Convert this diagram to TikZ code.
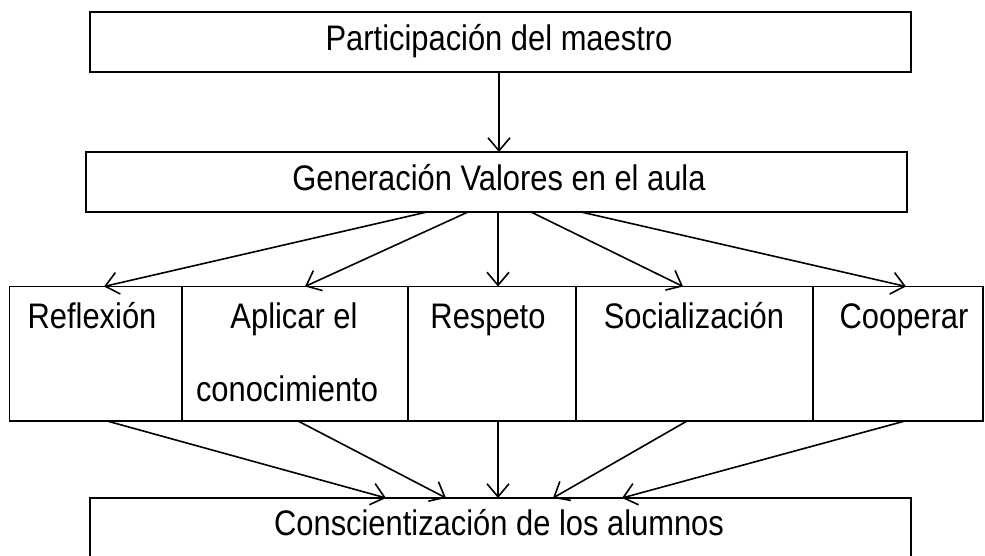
\documentclass[tikz,border=0pt]{standalone}
\usepackage{fontspec}
\setmainfont{Liberation Sans}[FakeStretch=0.87]
\usetikzlibrary{arrows.meta}
\begin{document}
\begin{tikzpicture}[x=1pt,y=-1pt,
  box/.style={draw=black, line width=1.9pt, inner sep=0pt, outer sep=0pt},
  lbl/.style={font=\fontsize{35.5}{40}\selectfont, inner sep=0pt, outer sep=0pt, anchor=base},
  arr/.style={draw=black, line width=1.6pt, -{Straight Barb[length=13pt,width=22pt]}}]
\useasboundingbox (0,0) rectangle (985,556);
\clip (0,0) rectangle (985,556);
% top boxes
\node[box, minimum width=821pt, minimum height=60pt] (a) at (500.5,42) {};
\node[lbl] (ta) at (499,51) {Participación del maestro};
\node[box, minimum width=821pt, minimum height=60pt] (b) at (496.5,182) {};
\node[lbl] (tb) at (499,191) {Generación Valores en el aula};
% row of cells
\node[box, minimum width=172.5pt, minimum height=134.5pt] (r1) at (95.75,353.75) {};
\node[box, minimum width=226pt, minimum height=134.5pt] (r2) at (295,353.75) {};
\node[box, minimum width=168pt, minimum height=134.5pt] (r3) at (492,353.75) {};
\node[box, minimum width=237pt, minimum height=134.5pt] (r4) at (694.5,353.75) {};
\node[box, minimum width=170pt, minimum height=134.5pt] (r5) at (898,353.75) {};
\node[lbl] (t1) at (92,328) {Reflexión};
\node[lbl] (t2a) at (294,328) {Aplicar el};
\node[lbl] (t2b) at (287,401) {conocimiento};
\node[lbl] (t3) at (488,328) {Respeto};
\node[lbl] (t4) at (694,328) {Socialización};
\node[lbl] (t5) at (904,328) {Cooperar};
% bottom box
\node[box, minimum width=821pt, minimum height=72pt] (d) at (500.5,534) {};
\node[lbl] (td) at (499,535) {Conscientización de los alumnos};
% connectors
\draw[arr] (a.south -| 499,0) -- (b.north -| 499,0);
\draw[arr] (b.south -| 427,0) -- (r1.north -| 104,0);
\draw[arr] (b.south -| 468,0) -- (r2.north -| 305,0);
\draw[arr] (b.south -| 498,0) -- (r3.north -| 498,0);
\draw[arr] (b.south -| 531,0) -- (r4.north -| 683,0);
\draw[arr] (b.south -| 581,0) -- (r5.north -| 906,0);
\draw[arr] (r1.south -| 107,0) -- (d.north -| 386,0);
\draw[arr] (r2.south -| 298,0) -- (d.north -| 446,0);
\draw[arr] (r3.south -| 498,0) -- (d.north -| 498,0);
\draw[arr] (r4.south -| 687,0) -- (d.north -| 553,0);
\draw[arr] (r5.south -| 905,0) -- (d.north -| 622,0);
\end{tikzpicture}
\end{document}
